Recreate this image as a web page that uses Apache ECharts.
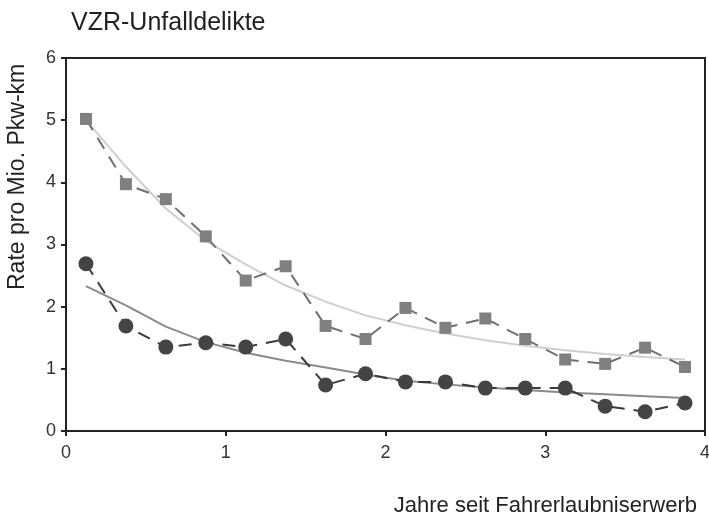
<!DOCTYPE html>
<html>
<head>
<meta charset="utf-8">
<script src="https://cdn.jsdelivr.net/npm/echarts@6/dist/echarts.min.js"></script>
<style>
  html, body { margin: 0; padding: 0; background: #fff; }
  #chart { width: 709px; height: 518px; }
</style>
</head>
<body>
<div id="chart"></div>
<script>
// Years since licence (midpoints of quarter-year bins)
const years = [0.125, 0.375, 0.625, 0.875, 1.125, 1.375, 1.625, 1.875,
               2.125, 2.375, 2.625, 2.875, 3.125, 3.375, 3.625, 3.875];
// Observed rates (squares)
const rateSquares = [5.02, 3.97, 3.73, 3.13, 2.42, 2.65, 1.69, 1.48,
                     1.98, 1.66, 1.81, 1.48, 1.15, 1.08, 1.34, 1.03];
// Observed rates (circles)
const rateCircles = [2.69, 1.69, 1.35, 1.42, 1.35, 1.48, 0.74, 0.92,
                     0.79, 0.79, 0.69, 0.69, 0.69, 0.40, 0.31, 0.45];
// Fitted trend curves
const trendSquares = [5.00, 4.25, 3.58, 3.06, 2.68, 2.34, 2.08, 1.86,
                      1.70, 1.57, 1.46, 1.37, 1.30, 1.24, 1.19, 1.15];
const trendCircles = [2.33, 2.02, 1.68, 1.43, 1.26, 1.13, 1.02, 0.91,
                      0.81, 0.75, 0.70, 0.66, 0.62, 0.59, 0.56, 0.53];

const pairs = (xs, ys) => xs.map((x, i) => [x, ys[i]]);
const font = 'Liberation Sans, Arial, sans-serif';

const chart = echarts.init(document.getElementById('chart'));
chart.setOption({
  backgroundColor: '#fff',
  animation: false,
  title: {
    text: 'VZR-Unfalldelikte',
    left: 66, top: 6,
    textStyle: { fontFamily: font, fontSize: 25, fontWeight: 'normal', color: '#222' }
  },
  graphic: [{
    type: 'text',
    // vertical axis title, reading bottom-to-top
    x: 6, y: 290,
    rotation: Math.PI / 2,
    style: {
      text: 'Rate pro Mio. Pkw-km',
      font: '23px ' + font,
      fill: '#222',
      textAlign: 'left',
      textVerticalAlign: 'top'
    }
  }],
  grid: {
    left: 66, right: 4, top: 58, bottom: 87,
    outerBoundsMode: 'none',
    show: true, borderColor: '#222', borderWidth: 2, backgroundColor: '#fff'
  },
  xAxis: {
    type: 'value', min: 0, max: 4, interval: 1,
    name: 'Jahre seit Fahrerlaubniserwerb',
    nameLocation: 'end', nameGap: 0,
    nameTextStyle: { fontFamily: font, fontSize: 22, color: '#222',
                     align: 'right', verticalAlign: 'top', padding: [64, 8, 0, 0] },
    axisLine: { lineStyle: { color: '#222', width: 2 } },
    axisTick: { show: true, length: 5, lineStyle: { color: '#222', width: 2 } },
    axisLabel: { fontFamily: font, fontSize: 18, color: '#333', margin: 13 },
    splitLine: { show: false }
  },
  yAxis: {
    type: 'value', min: 0, max: 6, interval: 1,
    axisLine: { show: true, lineStyle: { color: '#222', width: 2 } },
    axisTick: { show: true, length: 5, lineStyle: { color: '#222', width: 2 } },
    axisLabel: { fontFamily: font, fontSize: 18, color: '#333', margin: 10 },
    splitLine: { show: false }
  },
  series: [
    {
      type: 'line', data: pairs(years, trendSquares),
      symbol: 'none', z: 1,
      lineStyle: { color: '#cfcfcf', width: 2 }
    },
    {
      type: 'line', data: pairs(years, trendCircles),
      symbol: 'none', z: 1,
      lineStyle: { color: '#8a8a8a', width: 2 }
    },
    {
      type: 'line', data: pairs(years, rateSquares),
      symbol: 'rect', symbolSize: 12, z: 3,
      itemStyle: { color: '#808080' },
      lineStyle: { color: '#707070', width: 2, type: [13, 9] }
    },
    {
      type: 'line', data: pairs(years, rateCircles),
      symbol: 'circle', symbolSize: 15, z: 3,
      itemStyle: { color: '#444' },
      lineStyle: { color: '#3a3a3a', width: 2, type: [13, 9] }
    }
  ]
});
</script>
</body>
</html>
